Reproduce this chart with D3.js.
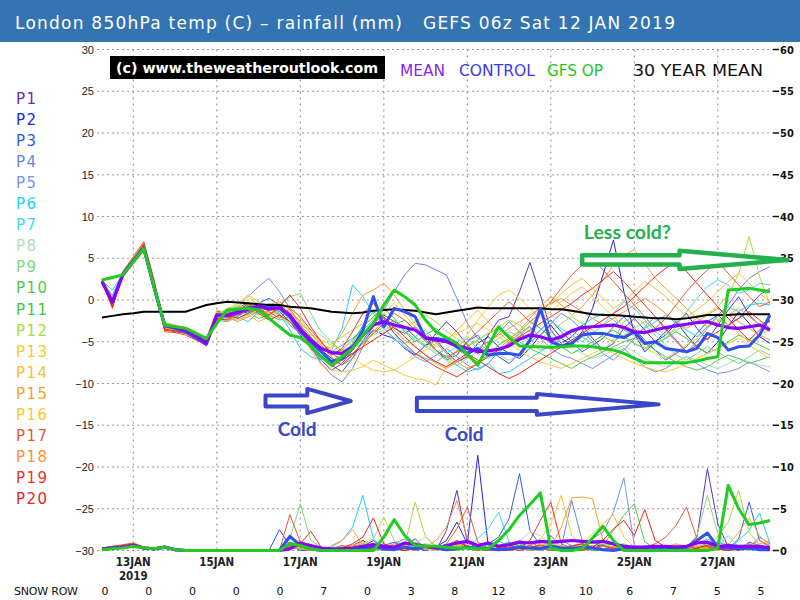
<!DOCTYPE html>
<html>
<head>
<meta charset="utf-8">
<script src="https://cdn.jsdelivr.net/npm/d3@7"></script>
<style>
  body { margin: 0; background: #fff; }
  svg { display: block; }
  text { font-family: "DejaVu Sans", sans-serif; }
</style>
</head>
<body>
<svg id="chart" width="800" height="600"></svg>
<script>
// GEFS 06z run, 6 hourly steps out to 384h
const runStart = Date.UTC(2019, 0, 12, 6)
const stepHours = d3.range(0, 385, 6)

const meanTemp = [
  2.2,-0.2,3.0,4.6,6.2,1.5,-3.0,-3.3,-3.6,-4.3,-5.1,-1.8,-1.9,
  -1.5,-1.1,-0.7,-1.1,-0.9,-1.8,-3.5,-4.8,-5.8,-6.3,-6.4,-5.6,-4.2,
  -3.0,-2.6,-3.0,-3.3,-3.6,-4.5,-4.8,-5.0,-5.5,-5.8,-6.2,-6.1,-5.9,
  -5.5,-4.7,-4.2,-4.4,-4.8,-4.4,-3.7,-3.3,-3.2,-3.1,-3.0,-3.3,-3.8,
  -3.9,-3.6,-3.3,-3.1,-2.9,-2.7,-2.6,-3.0,-3.3,-3.4,-3.2,-3.0,-3.6]
const controlTemp = [
  2.2,-0.3,3.1,4.7,6.3,1.5,-3.1,-3.4,-3.8,-4.5,-5.3,-1.8,-1.8,
  -1.4,-0.9,-0.8,-0.9,-1.0,-2.0,-3.8,-5.0,-6.2,-7.4,-7.0,-5.8,-3.6,
  0.4,-3.2,-1.0,-1.4,-2.0,-4.6,-4.6,-4.8,-5.6,-6.4,-5.8,-6.6,-6.4,
  -6.4,-6.6,-4.8,-1.0,-5.0,-5.5,-5.2,-4.2,-4.0,-4.0,-4.3,-4.5,-3.8,
  -5.2,-5.0,-5.8,-6.0,-6.2,-5.8,-4.0,-4.5,-6.0,-5.6,-5.5,-4.2,-1.8]
const opTemp = [
  2.4,2.7,3.0,4.6,6.2,1.5,-3.0,-3.2,-3.4,-4.0,-4.6,-2.8,-1.2,
  -1.1,-1.0,-1.2,-2.2,-3.2,-4.2,-4.5,-5.5,-6.8,-7.8,-6.8,-5.8,-4.2,
  -2.8,-0.6,1.2,0.4,-0.6,-2.4,-3.8,-4.5,-5.2,-6.5,-7.8,-5.5,-3.2,
  -4.5,-5.5,-5.6,-5.6,-5.7,-5.6,-5.5,-5.5,-5.6,-5.8,-6.0,-6.4,-7.0,
  -7.5,-7.5,-7.5,-7.5,-7.5,-7.3,-7.0,-6.8,1.2,1.3,1.4,1.2,1.0]
const climTemp = [
  -2.1,-1.9,-1.7,-1.6,-1.4,-1.4,-1.4,-1.4,-1.4,-1.0,-0.6,-0.4,-0.2,
  -0.3,-0.4,-0.5,-0.6,-0.6,-0.8,-0.9,-1.0,-1.2,-1.4,-1.5,-1.6,-1.5,
  -1.3,-1.2,-1.1,-1.2,-1.3,-1.5,-1.7,-1.5,-1.3,-1.1,-0.9,-1.0,-1.0,
  -1.0,-1.0,-1.0,-1.0,-1.1,-1.1,-1.3,-1.5,-1.7,-1.8,-1.8,-1.9,-2.0,
  -2.1,-2.2,-2.2,-2.3,-2.2,-2.0,-1.8,-1.8,-1.8,-1.7,-1.7,-1.7,-1.7]

const memberNames = d3.range(1, 21).map(n => "P" + n)
const memberColors = ["#6030c0","#2424e0","#3458e8","#6a86e6","#7c90ee","#1ed0f2","#40daf0",
  "#a8e2b4","#80d880","#52c852","#40c840","#aadc40","#f8c834","#f8c030","#f8a030",
  "#f8c830","#e05a3a","#f89434","#f03424","#f02414"]

const memberTemp = [
  [2.1,-0.6,3.2,4.8,6.5,1.2,-3.3,-3.5,-3.9,-4.6,-5.3,-2.2,-1.6,
   -1.0,-0.3,-1.2,-0.6,-1.4,-2.6,-4.2,-5.8,-7.2,-8.4,-7.6,-6.0,-4.4,
   -2.8,-1.8,-2.6,-3.2,-4.4,-5.6,-4.0,-2.6,-3.8,-5.4,-6.4,-4.2,-2.4,
   -2.0,1.0,4.5,0.6,-3.6,-5.2,-4.4,-3.0,-4.6,-6.0,-5.2,-3.4,-2.2,
   -3.6,-5.0,-4.2,-2.8,-1.6,-3.4,-4.8,-3.0,-1.2,0.4,-1.8,-3.0,-2.6],
  [2.3,-0.1,2.9,4.5,6.1,1.8,-2.9,-3.2,-3.5,-4.2,-5.0,-1.6,-2.0,
   -1.8,-1.4,-0.8,-1.0,-0.5,-1.8,-3.2,-4.6,-6.0,-7.0,-7.8,-6.6,-5.0,
   -3.6,-4.2,-4.6,-5.8,-6.6,-5.4,-4.8,-6.2,-7.4,-6.8,-5.2,-4.4,-5.6,
   -6.4,-7.0,-5.8,-4.2,-3.0,-4.6,-5.4,-3.8,-1.0,3.0,7.2,1.0,-4.0,
   -6.2,-5.0,-3.8,-2.6,-4.2,-5.6,-6.4,-5.0,-3.2,-1.4,-2.8,-4.4,-5.2],
  [2.2,0.2,3.0,4.6,6.0,1.4,-3.1,-3.6,-3.4,-4.0,-4.8,-1.4,-1.4,
   -2.2,-1.6,-0.4,0.2,-0.6,-2.0,-3.6,-5.4,-6.6,-7.8,-8.6,-7.0,-4.8,
   -3.2,-2.0,-3.4,-4.0,-3.2,-4.4,-6.0,-7.2,-6.6,-5.0,-4.2,-5.8,-6.8,
   -7.6,-6.4,-4.8,-3.6,-2.4,-3.8,-5.0,-6.2,-5.4,-4.6,-3.2,-2.0,-3.4,
   -4.8,-6.0,-7.2,-6.4,-5.6,-4.0,-2.6,-1.8,-3.0,-2.2,-0.8,0.6,1.4],
  [2.0,0.5,3.3,4.9,6.6,2.0,-2.8,-3.0,-3.3,-4.0,-4.9,-1.5,-2.2,
   -2.0,-1.2,-1.6,-0.8,-1.8,-3.0,-4.0,-5.6,-7.6,-9.0,-9.8,-8.2,-5.6,
   -3.0,-1.2,1.0,3.0,4.4,4.2,3.6,3.0,0.2,-2.8,-4.6,-5.2,-4.0,
   -2.6,-3.8,-5.0,-4.2,-2.8,-1.6,-2.4,-3.6,-5.0,-6.4,-7.2,-6.0,-4.6,
   -3.2,-2.0,-3.6,-5.0,-6.2,-5.0,-3.4,-1.8,-0.6,1.2,2.6,3.4,4.0],
  [2.4,0.0,2.8,4.4,6.0,1.6,-3.0,-3.4,-3.7,-4.4,-5.2,-2.4,-2.0,
   -0.8,0.4,1.6,2.6,1.0,-1.0,-3.0,-4.4,-5.6,-6.2,-5.4,-4.6,-3.6,
   -2.4,-3.4,-4.6,-5.8,-6.8,-7.4,-6.6,-5.8,-6.8,-7.8,-8.4,-7.6,-6.2,
   -5.0,-4.0,-3.2,-4.6,-5.8,-6.6,-7.0,-7.6,-8.2,-7.4,-6.6,-5.8,-7.0,
   -8.0,-8.6,-8.2,-7.4,-6.8,-7.6,-8.4,-8.8,-8.6,-8.2,-7.4,-8.0,-8.6],
  [2.3,1.2,3.1,4.6,6.1,1.8,-2.8,-3.2,-3.6,-4.2,-5.0,-2.4,-2.6,
   -2.0,-2.6,-1.4,-0.8,-1.6,-3.6,-5.8,-6.8,-7.2,-6.0,-3.4,1.8,0.4,
   -1.6,-2.8,-4.0,-5.6,-6.4,-7.0,-7.4,-6.6,-7.8,-8.6,-8.2,-7.6,-8.8,
   -8.6,-7.8,-7.0,-6.2,-5.4,-4.6,-3.8,-3.0,-2.2,-1.6,-2.4,-3.6,-4.2,
   -3.4,-2.6,-1.8,-2.8,-3.6,-4.4,-3.2,-2.0,-0.8,-1.4,-0.6,-0.4,-0.6],
  [2.2,0.6,3.0,4.5,6.0,1.4,-3.2,-3.6,-4.0,-4.4,-5.0,-2.0,-2.4,
   -1.8,-0.8,-1.4,-2.0,-1.2,-2.4,-3.8,-5.2,-6.6,-7.6,-6.8,-5.4,-3.8,
   -2.6,-3.4,-4.8,-5.2,-4.4,-3.6,-5.0,-6.4,-5.6,-4.6,-5.8,-7.0,-6.4,
   -5.2,-4.4,-3.0,-1.8,-2.6,-3.4,-4.2,-5.0,-4.0,-3.0,-1.6,-0.2,-1.0,
   -2.4,-3.8,-4.6,-3.2,-1.4,0.2,1.6,2.4,1.8,0.8,1.2,2.0,1.8],
  [2.4,0.4,2.9,4.3,5.8,1.9,-2.6,-3.0,-3.4,-4.0,-4.8,-1.9,-1.8,
   -1.2,-0.6,-0.2,-1.0,-2.0,-2.8,-3.0,-3.6,-4.2,-5.2,-6.0,-5.8,-5.0,
   -4.2,-3.6,-3.0,-3.8,-4.6,-5.4,-6.2,-5.8,-5.0,-4.4,-5.2,-6.0,-6.6,
   -7.2,-6.6,-5.8,-5.0,-4.4,-5.0,-5.8,-6.4,-7.0,-6.6,-6.0,-5.4,-6.2,
   -7.0,-7.6,-8.0,-7.4,-6.8,-7.2,-7.8,-8.2,-7.6,-7.0,-7.4,-7.8,-8.0],
  [2.1,-0.4,3.1,4.7,6.2,1.0,-3.4,-3.7,-3.8,-4.6,-5.4,-2.6,-2.2,
   -1.4,-1.8,-1.0,-0.4,-0.6,0.4,0.8,-1.6,-3.8,-5.0,-6.2,-5.6,-4.8,
   -4.0,-3.2,-2.4,-3.6,-4.8,-5.6,-6.4,-7.2,-7.8,-7.0,-6.2,-5.4,-4.6,
   -3.8,-4.4,-5.2,-6.0,-5.4,-4.6,-3.8,-4.4,-5.2,-6.0,-4.8,-2.6,-1.8,
   -3.0,-4.2,-5.4,-6.6,-7.2,-6.4,-5.6,-6.2,-7.0,-7.6,-6.8,-6.0,-6.6],
  [2.3,0.0,3.0,4.6,6.3,1.3,-3.0,-3.4,-3.6,-4.2,-5.1,-1.6,-1.2,
   -0.8,-1.4,-2.2,-1.8,-1.0,-1.6,-3.4,-5.2,-7.0,-7.4,-6.4,-5.2,-3.0,
   -1.4,-2.2,-3.0,-2.4,-3.6,-5.0,-6.0,-6.8,-6.2,-5.6,-4.8,-4.0,-3.4,
   -4.2,-5.0,-5.8,-6.4,-7.0,-7.6,-8.2,-7.4,-6.8,-6.2,-5.6,-5.0,-4.6,
   -5.2,-6.0,-6.8,-7.4,-8.0,-8.4,-8.0,-7.2,-6.6,-7.0,-7.6,-7.2,-6.8],
  [2.5,0.2,2.9,4.4,6.0,1.7,-2.9,-3.1,-3.5,-4.1,-4.9,-2.0,-1.4,
   -1.2,-0.6,-1.4,-1.8,-2.4,-2.0,-3.0,-4.4,-5.8,-6.4,-6.0,-4.8,-3.2,
   -2.0,-1.0,-2.2,-3.8,-5.0,-4.2,-3.4,-4.6,-5.8,-6.8,-7.4,-6.6,-5.4,
   -4.6,-3.8,-2.6,-3.4,-4.4,-5.6,-6.4,-5.8,-5.0,-4.2,-3.6,-4.4,-5.2,
   -5.8,-5.2,-4.6,-3.8,-4.6,-5.6,-6.4,-5.8,-5.0,-4.2,-4.8,-5.4,-6.0],
  [2.2,-0.8,3.4,5.0,6.6,1.1,-3.3,-3.6,-3.9,-4.4,-5.3,-1.8,-1.0,
   -0.6,-1.2,-1.8,-1.2,-0.8,-2.2,-4.0,-5.6,-6.2,-5.2,-4.4,-3.6,-2.8,
   -2.2,-1.6,-2.8,-3.4,-2.6,-1.8,-2.6,-3.8,-4.6,-5.4,-4.8,-4.0,-3.2,
   -2.4,-3.0,-3.8,-4.6,-3.8,-2.8,-2.0,-2.8,-3.6,-4.4,-5.0,-4.2,-3.4,
   -2.6,-3.4,-4.2,-3.6,-3.0,-2.2,-1.6,-0.8,0.6,3.2,7.6,2.8,-0.6],
  [2.0,-0.6,3.2,4.8,6.8,2.2,-3.6,-3.4,-3.2,-3.8,-4.6,-1.2,-1.6,
   -1.0,0.4,-0.6,-1.4,-0.4,-1.6,-3.6,-6.0,-7.8,-8.4,-8.6,-8.4,-8.0,
   -7.2,-7.8,-8.4,-9.0,-9.4,-9.6,-10.2,-8.0,-6.0,-4.2,-2.4,-0.8,0.6,
   1.2,0.2,-1.0,-2.2,-1.4,-0.2,0.8,1.6,0.4,-0.8,-2.0,-3.2,-4.4,
   -5.6,-6.4,-7.0,-6.2,-5.4,-4.6,-3.4,-2.2,-3.0,-4.0,-5.0,-4.2,-3.6],
  [2.6,0.3,2.8,4.5,6.1,1.5,-2.8,-3.0,-3.4,-4.2,-4.8,-1.4,-2.2,
   -2.4,-1.8,-2.6,-2.0,-1.2,-0.6,-2.2,-4.0,-5.2,-6.0,-6.8,-5.6,-4.4,
   -3.0,-1.6,-0.4,-1.8,-3.2,-4.4,-5.6,-4.8,-3.6,-2.4,-1.2,-2.6,-3.8,
   -5.0,-4.2,-3.0,-1.8,-0.6,0.8,1.8,2.6,1.4,0.2,-1.0,-0.2,1.0,
   2.2,1.4,0.4,-0.8,-2.0,-1.2,-0.2,1.0,2.2,3.2,2.0,0.8,-0.2],
  [2.4,-0.9,3.3,4.9,6.9,2.0,-3.4,-3.2,-3.6,-4.4,-5.0,-2.0,-2.6,
   -1.6,-0.4,-1.0,-1.6,-1.0,-1.4,-2.8,-4.8,-6.2,-5.6,-4.0,-1.6,0.6,
   1.2,2.0,0.6,-1.2,-2.8,-4.0,-5.2,-6.4,-7.4,-8.2,-7.6,-6.8,-5.8,
   -4.8,-3.6,-2.2,-0.8,0.4,-0.6,-1.8,-0.8,0.6,2.4,4.2,5.4,6.0,
   4.4,2.6,1.4,0.2,-1.0,-2.2,-3.2,-2.6,-1.8,-1.0,-2.0,-3.0,-2.4],
  [2.3,-0.2,3.1,4.6,6.4,1.9,-3.0,-3.3,-3.7,-4.4,-5.0,-2.2,-1.2,
   -0.4,0.6,-0.2,-1.0,-2.0,-2.6,-3.4,-4.2,-4.8,-5.4,-6.0,-6.8,-7.8,
   -8.4,-8.6,-8.4,-7.6,-6.8,-6.0,-5.2,-4.6,-4.0,-3.4,-2.8,-3.6,-4.4,
   -5.2,-6.0,-6.8,-7.4,-7.8,-8.2,-7.6,-7.0,-6.4,-5.8,-6.4,-7.0,-7.6,
   -8.0,-8.4,-8.6,-8.2,-7.6,-7.0,-6.4,-5.8,-5.2,-4.6,-5.4,-6.2,-7.0],
  [2.1,-0.7,3.4,5.2,7.0,2.4,-3.8,-3.9,-4.2,-4.8,-5.4,-1.8,-1.4,
   -1.8,-1.2,-0.6,-1.4,-2.2,-1.0,-2.0,-3.6,-5.0,-6.4,-7.2,-6.4,-5.2,
   -4.0,-2.8,-1.6,-2.4,-3.6,-4.8,-6.0,-7.0,-6.2,-5.0,-3.8,-2.6,-1.4,
   -0.2,-1.4,-2.6,-1.6,-0.2,1.4,3.0,4.2,5.0,3.6,2.2,0.8,-0.6,
   -2.0,-3.4,-2.2,-0.6,1.0,2.4,3.6,4.6,3.2,1.8,0.4,-0.8,-0.2],
  [2.5,-0.5,3.2,4.8,6.6,1.6,-3.2,-3.5,-3.6,-4.3,-5.2,-1.6,-2.0,
   -2.6,-2.0,-1.2,-0.6,-0.2,-1.2,-2.6,-4.0,-5.4,-6.8,-7.8,-7.0,-5.6,
   -3.8,-2.4,-3.6,-4.8,-5.6,-6.6,-7.6,-8.2,-7.4,-6.6,-5.8,-5.0,-4.2,
   -3.4,-2.6,-1.8,-1.0,-0.4,0.2,-0.6,-1.4,-2.2,-3.0,-2.2,-1.4,-0.6,
   0.2,-0.6,-1.6,-2.6,-3.4,-2.6,-1.8,-1.0,-1.8,-2.6,-3.4,-4.2,-4.8],
  [2.2,-1.0,3.3,4.9,6.7,2.1,-3.6,-3.8,-4.0,-4.7,-5.5,-2.4,-1.8,
   -2.2,-1.6,-1.0,-1.8,-0.8,0.6,-1.0,-3.2,-5.0,-6.6,-5.8,-3.8,-1.6,
   -0.4,-2.2,-4.0,-5.2,-6.4,-7.2,-8.0,-8.6,-9.2,-8.4,-7.6,-6.8,-6.0,
   -5.2,-4.4,-3.6,-2.8,-2.0,-1.2,-0.4,0.6,1.4,2.4,3.4,2.2,0.8,
   -0.6,-2.0,-3.4,-4.8,-6.2,-5.4,-4.6,-3.8,-3.0,-2.2,-1.4,-2.4,-3.4],
  [2.4,-0.8,3.0,4.6,6.5,1.4,-3.5,-3.7,-3.8,-4.5,-5.3,-2.2,-2.4,
   -1.4,-0.4,-1.6,-2.4,-1.8,-2.6,-3.8,-5.4,-6.8,-8.0,-7.2,-6.4,-5.6,
   -4.8,-4.0,-3.2,-4.4,-5.6,-6.6,-7.4,-8.0,-7.2,-6.4,-7.2,-8.0,-8.8,
   -9.4,-8.8,-8.0,-7.2,-6.4,-5.6,-4.8,-4.0,-3.2,-2.4,-1.6,-0.8,0.4,
   1.6,2.8,3.8,4.6,3.4,2.0,0.6,-0.8,-2.2,-3.6,-4.8,-3.6,-2.4]
]

const meanRain = [
  0.1,0.3,0.4,0.6,0.3,0.2,0.4,0.1,0,0,0,0,0,
  0,0,0,0,0,0.2,0.9,0.6,0.3,0.2,0.2,0.3,0.5,
  0.7,0.5,0.4,0.9,0.7,0.5,0.3,0.6,0.9,1.1,0.6,0.9,0.5,
  0.7,1.0,0.9,1.1,1.0,1.1,1.2,1.1,1.0,1.1,0.8,0.5,0.4,
  0.4,0.5,0.5,0.4,0.5,0.9,1.0,0.5,0.6,0.5,0.5,0.5,0.3]
const controlRain = [
  0.2,0.3,0.4,0.6,0.3,0.2,0.4,0.1,0,0,0,0,0,
  0,0,0,0,0,1.7,0.6,0.2,0,0,0,0,0.3,
  0.5,0.2,0.1,0.4,0.2,0.5,0.3,0.1,0.2,0.4,0.3,0.2,0.1,
  0.2,0.4,0.3,0.2,0.5,0.3,0.2,0.4,0.3,0.1,0,0.2,0.3,
  0.1,0.2,0.1,0.3,0.4,1.2,2.1,0.4,0.3,0.2,0.3,0.1,0.1]
const opRain = [
  0.1,0.2,0.3,0.5,0.3,0.2,0.4,0.1,0,0,0,0,0,
  0,0,0,0,0,0.8,0.6,0.2,0,0,0,0,0,
  0,1.6,3.7,1.8,0.6,0.5,0.5,0.4,0.3,0.3,0.2,0.2,1.2,
  2.5,4.2,5.5,6.9,0.3,0,0,0.2,1.5,2.9,1.2,0,0,
  0,0,0,0,0,0,0,0.3,7.8,5.0,3.1,3.3,3.6]

const memberRain = [
  [0.2,0.3,0.5,0.6,0.3,0.1,0.4,0,0,0,0,0,0,
   0,0,0,0,0,1.0,0.4,0,0,0.3,0,0,0.5,
   1.2,0.3,0,0.6,1.4,0.2,0,2.4,7.2,1.0,0.2,0,0,
   0,0.4,1.1,0.3,0,0.5,0.2,0,0.6,0.2,0,0,0.3,
   0.2,0.4,0,0,0.3,1.6,9.8,3.2,0.4,0,1.0,0.6,0],
  [0.1,0.3,0.4,0.7,0.4,0.2,0.5,0.1,0,0,0,0,0,
   0,0,0,0,0,0.4,0.2,0,0,0,0,0.6,1.2,
   0.4,0,0.2,0.8,0.3,0,0.4,1.2,3.4,0.8,11.4,0.6,0,
   0,0.3,0,0.2,0.6,0.4,0,0,0.3,0.8,0.2,0,0,
   0,0.2,0.5,0,0,0.3,0.6,0.2,0,0.4,0.8,0.2,0.6],
  [0.2,0.4,0.5,0.6,0.3,0.2,0.3,0,0,0,0,0,0,
   0,0,0,0,2.5,0.6,0,0,0,0.2,0,0.4,0,
   0.2,0.6,1.0,0.4,0,0.2,0.6,0.3,0,0.4,0.2,0.8,1.6,
   3.8,9.2,2.4,0.6,0.2,0,0.3,0.5,0,0.2,0.4,0,0,
   0.3,0.6,0,0,0.2,0.4,0.8,0.3,0.2,1.4,5.8,1.2,0.4],
  [0.1,0.2,0.4,0.5,0.2,0.1,0.4,0,0,0,0,0,0,
   0,0,0,0,0,0.3,0.8,0.2,0,0,0.4,0.2,0,
   0,0.3,0.8,1.4,0.6,0.2,0,0.3,0.5,0.2,0,0.4,0.6,
   1.0,0.5,0.2,0,1.8,0.4,6.0,1.2,0.3,0,0.2,0.5,0.3,
   0,0.2,0.6,0.4,0,0.2,0.5,1.0,0.6,0.2,0.4,1.6,0.8],
  [0.2,0.3,0.4,0.6,0.4,0.2,0.4,0.1,0,0,0,0,0,
   0,0,0,0,0,0.6,0.3,0,0,0,0.2,0.5,0.8,
   0.3,0.1,0,0.4,0.9,0.5,0.2,0,0.4,1.0,0.6,0.2,0,
   0.3,0.6,0.2,0,0.4,1.2,0.6,0.8,1.4,2.2,4.6,8.7,0.6,
   0.2,0,0.3,0.6,0.2,0,0.4,0.2,0.8,0.3,0,0.4,0.2],
  [0.3,0.4,0.6,0.8,0.4,0.2,0.5,0.1,0,0,0,0,0,
   0,0,0,0,0,0.5,1.0,0.3,0,0.4,1.2,2.8,6.6,
   1.4,0.2,0,0.3,0.6,0.2,0,0.5,0.8,0.3,0,0.6,1.2,
   0.4,0,0.3,0.6,0.2,0,0.4,0.3,0,0.5,0.9,0.2,0,
   0.3,0.6,0.2,0,0.4,0.8,1.4,0.6,0.2,1.2,2.4,4.5,0.8],
  [0.2,0.3,0.5,0.6,0.3,0.2,0.3,0,0,0,0,0,0,
   0,0,0,0,0,0.7,0.4,0,0,0.2,0.6,0.3,0,
   0.2,0.5,0.3,0,0.4,0.8,0.3,0,0.2,0.6,1.4,2.6,4.6,
   1.0,0.3,0,0.2,0.5,0.3,0,0.4,1.0,0.6,0.2,0,0.3,
   0.6,0.2,0,0.3,0.5,0.2,0,0.6,1.8,0.4,0.2,0.6,0.3],
  [0.2,0.3,0.4,0.5,0.3,0.2,0.4,0,0,0,0,0,0,
   0,0,0,0,0,0.4,0.2,0,0,0,0.3,0.5,0.2,
   0,0.3,0.6,0.2,0.8,1.6,0.6,0.2,0.4,0.6,0.3,0,0.2,
   0.5,1.2,2.2,1.8,0.6,0.4,0.2,0.6,1.2,0.8,0.3,0.2,0,
   0.2,0.4,0.6,0.3,0,0.2,0.3,0.6,0.4,0.2,0.3,0.5,0.2],
  [0.3,0.5,0.6,0.8,0.4,0.2,0.5,0.1,0,0,0,0,0,
   0,0,0,0,0,1.4,5.6,1.2,0.4,0,0,0.2,0.5,
   0.8,0.3,0,0.2,0.6,0.4,0.2,0,0.5,0.3,0,0.4,0.2,
   0.6,0.3,0,0.5,1.0,0.4,0.2,0,0.3,0.6,0.2,0,0.4,
   0.2,0,0.3,0.8,0.4,1.8,6.6,2.0,0.4,0.2,0,0.3,0.2],
  [0.1,0.2,0.4,0.6,0.3,0.1,0.3,0,0,0,0,0,0,
   0,0,0,0,0,0.6,0.9,0.2,0,0,0,0.3,0.4,
   0.2,0,0.3,0.5,0.2,0.6,0.4,0.2,0,0.3,0.5,0.2,0,
   0.3,0.6,0.2,0.4,0.8,0.3,0,0.5,1.2,0.6,2.4,4.2,5.6,
   1.0,0.3,0,0.2,0.4,0.2,0.6,0.3,0,0.2,0.4,0.2,0],
  [0.2,0.4,0.5,0.7,0.3,0.2,0.4,0,0,0,0,0,0,
   0,0,0,0,0,0.5,0.3,0,0,0,0.2,0.4,0.2,
   0.3,0.6,0.2,0,0.4,0.3,0.2,0.5,0.8,0.4,0.2,0,0.3,
   0.5,0.8,0.3,0.2,0,0.4,0.6,0.3,0,0.2,0.5,0.8,0.3,
   0,0.2,0.4,0.2,0,0.3,0.5,0.2,0.4,0.6,0.3,0.2,0.4],
  [0.2,0.3,0.4,0.6,0.3,0.2,0.4,0,0,0,0,0,0,
   0,0,0,0,0,0.3,0.6,0.2,0,0,0,0.4,0.8,
   1.4,4.0,1.2,0.6,5.8,1.6,0.4,0.2,0,0.3,0.6,0.2,0,
   0.3,0.5,0.2,0,0.4,0.6,0.2,0,0.5,1.0,0.4,0.2,0,
   0.3,0.2,0,0.4,0.6,0.3,0.8,1.6,3.4,7.2,2.2,0.6,0.3],
  [0.2,0.4,0.6,0.8,0.4,0.2,0.4,0,0,0,0,0,0,
   0,0,0,0,0,0.8,0.4,0.2,0,0,0.3,0.2,0,
   0.2,0.4,0.3,0,0.5,0.8,0.4,0.2,0.6,0.3,0,0.4,0.8,
   0.3,0.2,0.6,1.4,3.2,6.6,1.8,0.4,0.2,0,0.3,0.6,0.2,
   0,0.3,0.5,0.2,0,0.4,0.6,0.3,0.2,0.5,0.8,0.4,0.2],
  [0.3,0.5,0.6,0.9,0.4,0.2,0.5,0.1,0,0,0,0,0,
   0,0,0,0,0,0.9,1.2,0.3,0,0,0.4,0.6,1.0,
   0.5,0.2,0,0.6,1.0,0.4,0.2,0.6,1.2,0.5,0.3,0,0.2,
   0.4,0.2,0.6,1.0,0.8,0.3,0,0.4,0.6,0.2,0,0.3,0.5,
   0.2,0,0.4,0.8,0.5,0.2,0,0.3,0.6,2.2,3.9,1.8,0.6],
  [0.2,0.4,0.5,0.8,0.3,0.2,0.4,0,0,0,0,0,0,
   0,0,0,0,0,0.4,0.8,0.3,0,0.6,1.2,2.5,0.6,
   0.2,0.4,0.8,0.3,0,0.5,0.3,0.2,0.6,1.0,0.4,0,0.3,
   0.6,0.3,0.2,0.8,0.4,2.8,6.3,6.4,6.2,1.2,0.2,0.4,0.3,
   0.2,0.5,0.3,0,0.4,0.6,0.2,0,0.3,0.6,0.4,0.8,1.2],
  [0.1,0.3,0.4,0.6,0.3,0.2,0.3,0,0,0,0,0,0,
   0,0,0,0,0,0.6,0.3,0,0,0,0.2,0.3,0.4,
   0.6,0.2,0,0.3,0.5,0.2,0,0.4,0.8,0.3,0.2,0,0.4,
   0.8,0.4,0.2,0.6,1.0,0.4,0.2,0.8,2.0,3.2,4.3,1.6,0.4,
   0.2,0,0.3,0.5,0.2,0,0.4,0.6,0.3,0.2,0.5,0.3,0],
  [0.3,0.5,0.7,0.9,0.4,0.2,0.5,0.1,0,0,0,0,0,
   0,0,0,0,0,4.3,1.0,0.3,0,0.2,0.6,0.3,0,
   0.4,0.8,0.3,0,0.4,0.6,0.2,0.8,2.6,5.2,1.0,0.3,0.2,
   0,0.4,0.6,0.3,0,0.2,0.5,0.8,0.3,0,0.4,0.6,0.2,
   0.4,0.8,1.6,3.0,5.2,1.4,0.4,0.2,0,0.3,0.6,0.2,0],
  [0.2,0.4,0.6,0.8,0.3,0.2,0.4,0,0,0,0,0,0,
   0,0,0,0,0,0.5,0.2,0,0,0.2,0.4,0.6,0.3,
   0,0.3,0.6,0.2,0,0.4,1.2,2.8,6.0,1.4,0.3,0,0.2,
   0.5,0.2,0,0.3,0.6,0.4,0.2,0,0.3,0.5,0.2,0,0.2,
   0.4,0.2,0,0.3,0.6,0.4,0.2,0.5,0.8,0.3,0.6,1.2,0.6],
  [0.2,0.3,0.5,0.7,0.3,0.2,0.4,0,0,0,0,0,0,
   0,0,0,0,0,0.6,0.8,2.3,0.4,0,0.2,0.3,0,
   0.3,0.6,0.2,0,0.3,0.5,0.2,0.4,1.0,0.6,0.2,0,0.4,
   0.6,0.3,1.2,3.6,5.8,0.8,0.2,0,0.3,0.6,0.2,0.4,0.3,
   0,0.2,0.5,0.3,0.6,0.2,0,0.4,0.2,0,0.3,0.2,0.1],
  [0.3,0.4,0.6,0.8,0.4,0.2,0.4,0,0,0,0,0,0,
   0,0,0,0,0,0.4,0.6,0.2,0,0,0.3,0.8,1.6,
   3.9,0.8,0.2,0,0.4,0.6,0.3,0.5,1.2,0.4,0,0.3,0.6,
   0.2,0,0.4,0.6,0.3,0.2,0.5,0.8,0.4,1.2,2.6,3.6,1.8,
   4.9,1.2,0.4,0.2,0,0.3,0.6,0.2,0,0.3,0.2,0.1,0]
]

const tempTicks = d3.range(-30, 31, 5)
const rainTicks = d3.range(0, 61, 5)
const dateTickDays = [13, 15, 17, 19, 21, 23, 25, 27]
const snowRow = [0, 0, 0, 0, 0, 7, 0, 3, 8, 12, 8, 10, 6, 7, 5, 5]
const legendNames = ["MEAN", "CONTROL", "GFS OP", "30 YEAR MEAN"]

// sanity check on hand typed series
;[meanTemp, controlTemp, opTemp, climTemp, meanRain, controlRain, opRain, ...memberTemp, ...memberRain]
  .forEach((s, k) => { if (s.length !== stepHours.length) throw new Error("series " + k + " has " + s.length) })

const svg = d3.select("#chart")
const times = stepHours.map(h => new Date(runStart + h * 3600e3))

const x = d3.scaleUtc()
  .domain([times[0], times[times.length - 1]])
  .range([102, 770])
const yT = d3.scaleLinear().domain([-30, 30]).range([550.5, 49.5])
const yR = d3.scaleLinear().domain([0, 60]).range([550.5, 49.5])

// title bar
svg.append("rect").attr("x", 0).attr("y", 0).attr("width", 800).attr("height", 42).attr("fill", "#3474b2")
svg.append("text")
  .attr("x", 15).attr("y", 29)
  .attr("fill", "#fff").attr("font-size", 17)
  .style("white-space", "pre")
  .attr("textLength", 660).attr("lengthAdjust", "spacing")
  .text("London 850hPa temp (C) \u2013 rainfall (mm)   GEFS 06z Sat 12 JAN 2019")

// grid
svg.append("g").selectAll("line").data(tempTicks).join("line")
  .attr("x1", 97).attr("x2", 773)
  .attr("y1", d => yT(d)).attr("y2", d => yT(d))
  .attr("stroke", "#9a9a9a").attr("stroke-width", 1.2)
  .attr("stroke-dasharray", "2,3")

const dayDates = dateTickDays.map(d => new Date(Date.UTC(2019, 0, d)))
svg.append("g").selectAll("line").data(dayDates).join("line")
  .attr("x1", d => x(d)).attr("x2", d => x(d))
  .attr("y1", 49.5).attr("y2", 553)
  .attr("stroke", "#9a9a9a").attr("stroke-width", 1.2)
  .attr("stroke-dasharray", "2,4")

// left axis labels (temp)
svg.append("g").selectAll("text").data(tempTicks).join("text")
  .attr("x", 94).attr("y", d => yT(d) + 4)
  .attr("text-anchor", "end")
  .attr("font-size", 11).attr("fill", "#222")
  .style("font-family", "'Liberation Sans', sans-serif")
  .text(d => d < 0 ? "\u2212" + Math.abs(d) : d)

// right axis (rain)
svg.append("g").selectAll("line").data(rainTicks).join("line")
  .attr("x1", 773).attr("x2", 779)
  .attr("y1", d => yR(d)).attr("y2", d => yR(d))
  .attr("stroke", "#111").attr("stroke-width", 1.5)
svg.append("g").selectAll("text").data(rainTicks).join("text")
  .attr("x", 780).attr("y", d => yR(d) + 4)
  .attr("font-size", 11).attr("font-weight", "bold").attr("fill", "#111")
  .style("font-family", "'DejaVu Sans Condensed', 'DejaVu Sans', sans-serif")
  .text(d => d)

// date labels
svg.append("g").selectAll("text").data(dayDates).join("text")
  .attr("x", d => x(d)).attr("y", 566)
  .attr("text-anchor", "middle")
  .attr("font-size", 11.5).attr("font-weight", "bold").attr("fill", "#222")
  .style("font-family", "'DejaVu Sans Condensed', 'DejaVu Sans', sans-serif")
  .text((d, i) => dateTickDays[i] + "JAN")
svg.append("text")
  .attr("x", x(dayDates[0])).attr("y", 580)
  .attr("text-anchor", "middle")
  .attr("font-size", 11.5).attr("font-weight", "bold").attr("fill", "#222")
  .style("font-family", "'DejaVu Sans Condensed', 'DejaVu Sans', sans-serif")
  .text("2019")

// snow row
svg.append("text")
  .attr("x", 14).attr("y", 595)
  .attr("font-size", 11).attr("fill", "#111")
  .attr("textLength", 64).attr("lengthAdjust", "spacing")
  .text("SNOW ROW")
const snowX = d3.scalePoint().domain(d3.range(snowRow.length)).range([105, 761])
svg.append("g").selectAll("text").data(snowRow).join("text")
  .attr("x", (d, i) => snowX(i)).attr("y", 595)
  .attr("text-anchor", "middle")
  .attr("font-size", 11).attr("fill", "#111")
  .text(d => d)

// lines
const tempLine = d3.line().x((d, i) => x(times[i])).y(d => yT(d))
const rainLine = d3.line().x((d, i) => x(times[i])).y(d => yR(d))

const members = svg.append("g").attr("fill", "none")
memberTemp.forEach((s, k) => {
  members.append("path").attr("d", tempLine(s))
    .attr("stroke", memberColors[k]).attr("stroke-width", 1)
})
memberRain.forEach((s, k) => {
  members.append("path").attr("d", rainLine(s))
    .attr("stroke", memberColors[k]).attr("stroke-width", 1)
})

const mains = svg.append("g").attr("fill", "none").attr("stroke-linejoin", "round")
mains.append("path").attr("d", tempLine(climTemp)).attr("stroke", "#000").attr("stroke-width", 2)
mains.append("path").attr("d", tempLine(controlTemp)).attr("stroke", "#2f50f2").attr("stroke-width", 3)
mains.append("path").attr("d", rainLine(controlRain)).attr("stroke", "#2f50f2").attr("stroke-width", 3)
mains.append("path").attr("d", tempLine(meanTemp)).attr("stroke", "#8a00ff").attr("stroke-width", 3.2)
mains.append("path").attr("d", rainLine(meanRain)).attr("stroke", "#8a00ff").attr("stroke-width", 3.2)
mains.append("path").attr("d", tempLine(opTemp)).attr("stroke", "#1fcc1f").attr("stroke-width", 3)
mains.append("path").attr("d", rainLine(opRain)).attr("stroke", "#1fcc1f").attr("stroke-width", 3)

// hand drawn style arrows, placed in forecast hours / temperature
const hourX = h => x(new Date(runStart + h * 3600e3))
function hollowArrow(a) {
  const x0 = hourX(a.from), x1 = hourX(a.neck), x2 = hourX(a.tip)
  const ym = yT(a.temp)
  const s = Math.abs(yT(a.temp + a.shaft) - ym), h = Math.abs(yT(a.temp + a.head) - ym)
  return `M${x0},${ym - s}L${x1},${ym - s}L${x1},${ym - h}L${x2},${ym}L${x1},${ym + h}L${x1},${ym + s}L${x0},${ym + s}Z`
}
const coldArrows = [
  { from: 94, neck: 118, tip: 143, temp: -12.1, shaft: 0.66, head: 1.45 },
  { from: 181, neck: 250, tip: 320, temp: -12.5, shaft: 0.78, head: 1.25 }
]
const milderArrows = [
  { from: 276, neck: 332, tip: 394, temp: 4.8, shaft: 0.56, head: 1.1 }
]
svg.append("g").selectAll("path").data(coldArrows).join("path")
  .attr("d", hollowArrow)
  .attr("fill", "#fff").attr("stroke", "#3b47c8").attr("stroke-width", 4).attr("stroke-linejoin", "round")
svg.append("g").selectAll("path").data(milderArrows).join("path")
  .attr("d", hollowArrow)
  .attr("fill", "#fff").attr("stroke", "#22b14c").attr("stroke-width", 4.5).attr("stroke-linejoin", "round")

const notes = [
  { text: "Cold", hour: 101, temp: -16.3, color: "#3b47c8", len: 39 },
  { text: "Cold", hour: 197, temp: -16.9, color: "#3b47c8", len: 39 },
  { text: "Less cold?", hour: 277, temp: 7.3, color: "#22b14c", len: 87 }
]
svg.append("g").selectAll("text").data(notes).join("text")
  .attr("x", d => hourX(d.hour)).attr("y", d => yT(d.temp))
  .attr("fill", d => d.color)
  .attr("font-size", 19).attr("font-weight", "bold")
  .style("font-family", "Lato, 'Open Sans', sans-serif")
  .attr("textLength", d => d.len).attr("lengthAdjust", "spacingAndGlyphs")
  .text(d => d.text)

// top legend
svg.append("rect").attr("x", 110).attr("y", 56).attr("width", 275).attr("height", 23).attr("fill", "#000")
svg.append("text")
  .attr("x", 116).attr("y", 73)
  .attr("fill", "#fff").attr("font-size", 14).attr("font-weight", "bold")
  .attr("textLength", 262).attr("lengthAdjust", "spacingAndGlyphs")
  .text("(c) www.theweatheroutlook.com")

const legendX = [400, 459, 547, 633]
const legendLen = [45, 76, 56, 130]
const legendColors = ["#8a1ff0", "#3a3af2", "#22c822", "#111"]
svg.append("g").selectAll("text").data(legendNames).join("text")
  .attr("x", (d, i) => legendX[i]).attr("y", 76)
  .attr("fill", (d, i) => legendColors[i])
  .attr("font-size", 16)
  .style("white-space", "pre")
  .attr("textLength", (d, i) => legendLen[i]).attr("lengthAdjust", "spacingAndGlyphs")
  .text(d => d)

// member key on the left
const keyY = d3.scalePoint().domain(memberNames).range([98, 498])
svg.append("g").selectAll("text").data(memberNames).join("text")
  .attr("x", 16).attr("y", d => keyY(d) + 6)
  .attr("fill", (d, i) => memberColors[i])
  .attr("font-size", 15)
  .attr("letter-spacing", 1.5)
  .text(d => d)
</script>
</body>
</html>
